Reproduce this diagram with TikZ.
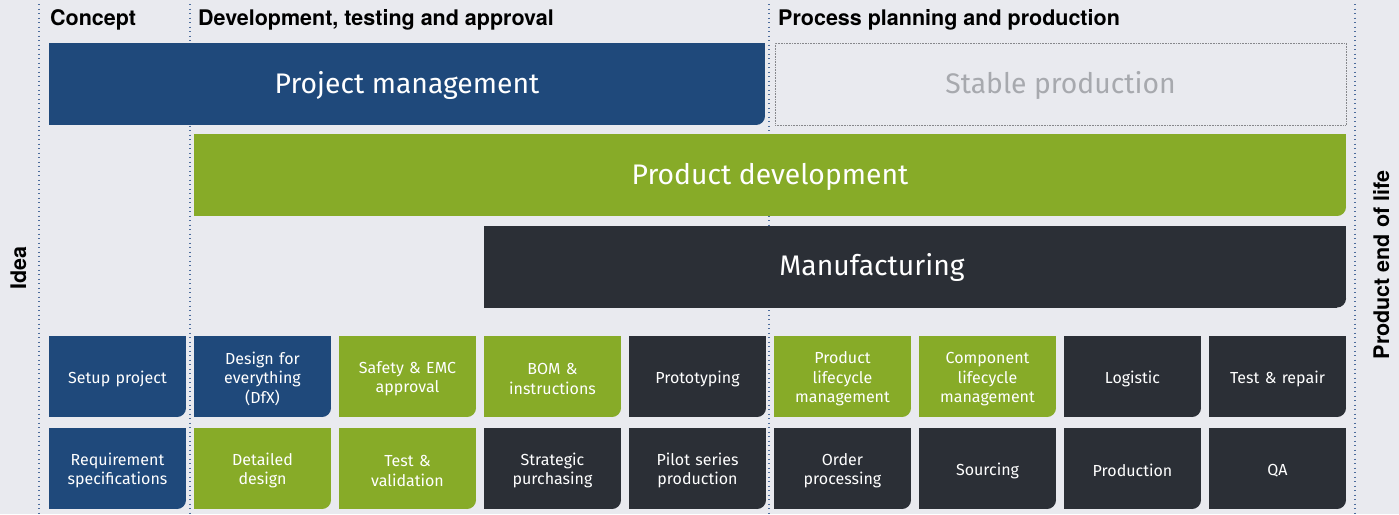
\documentclass[tikz,border=0pt]{standalone}
\usepackage{fontspec}
\setmainfont{Fira Sans}
\newfontfamily\headfont{TeX Gyre Heros}
\usepackage{xcolor}
\usetikzlibrary{positioning}

\definecolor{pageback}{HTML}{E9EAEF}
\definecolor{navy}{HTML}{1F497B}
\definecolor{leaf}{HTML}{87AB28}
\definecolor{coal}{HTML}{2B2F36}
\definecolor{guide}{HTML}{4C6C9C}
\definecolor{faded}{HTML}{A7A9AE}

\tikzset{
  card/.style={fill=#1, text=white, inner sep=0pt, outer sep=0pt, align=center,
    path picture={
      \fill[pageback] ([shift={(-9pt,9pt)}]path picture bounding box.south east) rectangle (path picture bounding box.south east);
      \fill[#1] ([shift={(-9pt,9pt)}]path picture bounding box.south east) circle[radius=9pt];
    }},
  tile/.style={card=#1, minimum width=137pt, minimum height=81pt, text width=130pt,
    font=\fontsize{16}{19.5}\selectfont, execute at begin node={\rule{0pt}{16.5pt}}},
  bar/.style={card=#1, minimum height=82pt, font=\fontsize{28.3}{32}\selectfont,
    execute at begin node={\rule{0pt}{25pt}}},
  phase/.style={anchor=base west, inner sep=0pt, font=\headfont\bfseries\fontsize{21.5}{24}\selectfont},
  edge label/.style={rotate=90, anchor=base, inner sep=0pt, font=\headfont\bfseries\fontsize{21.5}{24}\selectfont}
}

\begin{document}
\begin{tikzpicture}[x=1pt, y=-1pt]
    \fill[pageback] (0,0) rectangle (1399,514);
    \useasboundingbox (0,0) rectangle (1399,514);

    % phase borders
    \foreach \gx in {39,190,769,1355}
        \draw[guide, line width=1.3pt, dash pattern=on 1.3pt off 3.2pt] (\gx,4) -- (\gx,514);

    % phase titles
    \node[phase] (concept) at (50,25) {Concept};
    \node[phase] (devel) at (198,25) {Development, testing and approval};
    \node[phase] (process) at (778,25) {Process planning and production};
    \node[edge label] (idea) at (26,268) {Idea};
    \node[edge label] (eol) at (1389,265) {Product end of life};

    % long bars
    \node[bar=navy, minimum width=716pt] (pm) at (407,84) {Project management};
    \node[draw=faded!80!black, densely dotted, line width=0.6pt, text=faded,
          minimum width=571pt, minimum height=82pt, inner sep=0pt,
          font=\fontsize{28.3}{32}\selectfont] (stable) at (1060.5,84) {\rule{0pt}{25pt}Stable production};
    \node[bar=leaf, minimum width=1152pt] (pd) at (770,175) {Product development};
    \node[bar=coal, minimum width=862pt] (mf) at (915,266.5) {Manufacturing\hspace*{86pt}};

    % first row
    \node[tile=navy] (setup) at (117.5,376.5) {Setup project};
    \node[tile=navy] (dfx) at (262.5,376.5) {Design for\\everything\\(DfX)};
    \node[tile=leaf] (emc) at (407.5,376.5) {Safety \& EMC\\approval};
    \node[tile=leaf] (bom) at (552.5,376.5) {BOM \&\\instructions};
    \node[tile=coal] (proto) at (697.5,376.5) {Prototyping};
    \node[tile=leaf] (plm) at (842.5,376.5) {Product\\lifecycle\\management};
    \node[tile=leaf] (clm) at (987.5,376.5) {Component\\lifecycle\\management};
    \node[tile=coal] (logistic) at (1132.5,376.5) {Logistic};
    \node[tile=coal] (repair) at (1277.5,376.5) {Test \& repair};

    % second row
    \node[tile=navy] (reqs) at (117.5,468.5) {Requirement\\specifications};
    \node[tile=leaf] (detail) at (262.5,468.5) {Detailed\\design};
    \node[tile=leaf] (valid) at (407.5,468.5) {Test \&\\validation};
    \node[tile=coal] (purchase) at (552.5,468.5) {Strategic\\purchasing};
    \node[tile=coal] (pilot) at (697.5,468.5) {Pilot series\\production};
    \node[tile=coal] (order) at (842.5,468.5) {Order\\processing};
    \node[tile=coal] (sourcing) at (987.5,468.5) {Sourcing};
    \node[tile=coal] (prod) at (1132.5,468.5) {Production};
    \node[tile=coal] (qa) at (1277.5,468.5) {QA};
\end{tikzpicture}
\end{document}
